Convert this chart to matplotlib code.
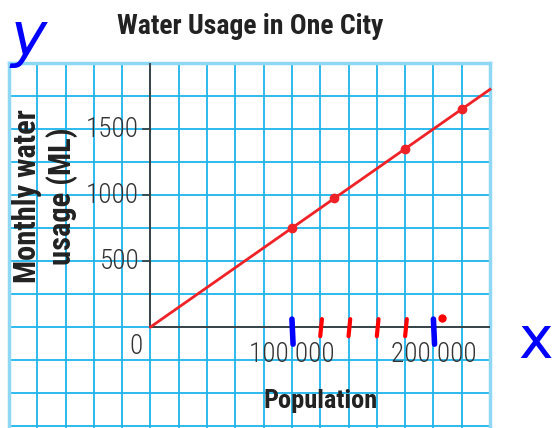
import matplotlib
matplotlib.use("Agg")
import matplotlib.pyplot as plt

# data
population = [0, 100000, 130000, 180000, 220000]
usage = [0, 750, 975, 1350, 1650]
line_end_x = 240000
line_end_y = 1800

y_ticks = [500, 1000, 1500]
y_tick_labels = ["500", "1000", "1500"]
x_ticks = [100000, 200000]
x_tick_labels = ["100 000", "200 000"]

# hand-drawn marks on the x axis
blue_marks_x = [100000, 200000]
red_marks_x = [120000, 140000, 160000, 180000]

FONT = ["Roboto Condensed", "Roboto"]
GRID = "#1fb4ec"
DARK = "#3a3a3a"
RED = "#ee2227"

fig = plt.figure(figsize=(5.57, 4.28), dpi=100)
ax = fig.add_axes([9 / 557, 0, 481 / 557, 365 / 428])
ax.set_xlim(-100000, 240000)
ax.set_ylim(-765, 2000)

# graph paper
for gx in range(-100000, 240001, 20000):
    ax.axvline(gx, color=GRID, lw=1.3, zorder=1)
for gy in range(-750, 2001, 250):
    ax.axhline(gy, color=GRID, lw=1.3, zorder=1)
ax.spines["bottom"].set_visible(False)
for k in ["top", "right", "left"]:
    ax.spines[k].set_color("#8fd8f5")
    ax.spines[k].set_linewidth(2.5)
ax.set_xticks([])
ax.set_yticks([])

# axes
ax.plot([0, 0], [0, 2000], color=DARK, lw=1.3, zorder=3)
ax.plot([0, line_end_x], [0, 0], color=DARK, lw=1.3, zorder=3)
for yt, lab in zip(y_ticks, y_tick_labels):
    ax.plot([-5600, 0], [yt, yt], color=DARK, lw=1.2, zorder=3)
    ax.text(-8000, yt, lab, family=FONT, fontsize=19.5, fontweight="light",
            color="#333333", ha="right", va="center", zorder=4)
ax.text(-10500, -150, "0", family=FONT, fontsize=19.5, fontweight="light",
        color="#333333", ha="center", va="center", zorder=4)
for xt, lab in zip(x_ticks, x_tick_labels):
    ax.text(xt, -205, lab, family=FONT, fontsize=19.5, fontweight="light",
            color="#333333", ha="center", va="center", zorder=4)

# data line and points
ax.plot([0, line_end_x], [0, line_end_y], color=RED, lw=2, zorder=5,
        clip_on=False)
ax.plot(population[1:], usage[1:], "o", color=RED, ms=6, zorder=6)

# labels
ax.text(120000, -560, "Population", family=FONT, fontsize=19,
        fontweight="bold", color="#222222", ha="center", va="center")
ax.text(-87300, 990, "Monthly water", family=FONT, fontsize=22,
        fontweight="bold", color="#222222", ha="center", va="center",
        rotation=90)
ax.text(-62500, 990, "usage (ML)", family=FONT, fontsize=22,
        fontweight="bold", color="#222222", ha="center", va="center",
        rotation=90)
fig.text(250 / 557, 1 - 27 / 428, "Water Usage in One City", family=FONT,
         fontsize=20, fontweight="bold", color="#222222",
         ha="center", va="center")

# handwriting
for mx in blue_marks_x:
    ax.plot([mx, mx + 800], [60, -130], color="#0000ff", lw=4,
            solid_capstyle="round", zorder=7)
for mx in red_marks_x:
    ax.plot([mx + 1200, mx], [60, -70], color="#ff0000", lw=3,
            solid_capstyle="round", zorder=7)
ax.plot([205800], [68], "o", color="#ff0000", ms=5, zorder=7)
fig.text(29 / 557, 1 - 38 / 428, "y", fontsize=44, style="italic",
         color="#0000ff", ha="center", va="center")
fig.text(536 / 557, 1 - 342 / 428, "x", fontsize=42, color="#0000ff",
         ha="center", va="center")

fig.savefig("out.png", dpi=100)
